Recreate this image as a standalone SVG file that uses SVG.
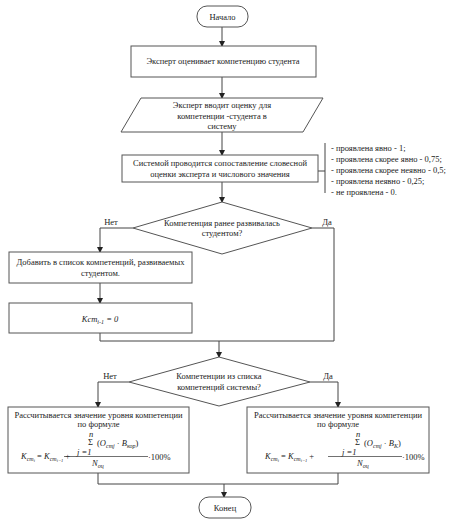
<svg xmlns="http://www.w3.org/2000/svg" width="452" height="524" viewBox="0 0 452 524">
<defs>
<marker id="ah" markerWidth="6" markerHeight="6" refX="5" refY="3" orient="auto" markerUnits="userSpaceOnUse">
<path d="M0,0 L6,3 L0,6 z" fill="#222"/>
</marker>
<style>
.s{fill:#fff;stroke:#555;stroke-width:1}
.t{font-family:"Liberation Serif","Times New Roman",serif;font-size:8.5px;fill:#222}
.c{text-anchor:middle}
.i{font-style:italic}
.l{fill:none;stroke:#444;stroke-width:1}
</style>
</defs>
<rect width="452" height="524" fill="#fff"/>
<g id="connectors">
<line class="l" x1="222" y1="27" x2="222" y2="46" marker-end="url(#ah)"/>
<line class="l" x1="222" y1="77" x2="222" y2="98" marker-end="url(#ah)"/>
<line class="l" x1="222" y1="132" x2="222" y2="155" marker-end="url(#ah)"/>
<line class="l" x1="222" y1="182" x2="222" y2="202" marker-end="url(#ah)"/>
<polyline class="l" points="133,228 100,228 100,252" marker-end="url(#ah)"/>
<polyline class="l" points="312,228 334,228 334,341"/>
<line class="l" x1="100" y1="283" x2="100" y2="303" marker-end="url(#ah)"/>
<polyline class="l" points="100,333 100,341 334,341"/>
<line class="l" x1="219" y1="341" x2="219" y2="357" marker-end="url(#ah)"/>
<polyline class="l" points="129,382 98,382 98,407" marker-end="url(#ah)"/>
<polyline class="l" points="310,382 338,382 338,407" marker-end="url(#ah)"/>
<polyline class="l" points="98,473 98,484 338,484 338,473"/>
<line class="l" x1="224" y1="484" x2="224" y2="497" marker-end="url(#ah)"/>
<polyline class="l" points="318,171 325,171"/>
<line class="l" x1="325" y1="143" x2="325" y2="193"/>
<text class="t c" x="111" y="225">Нет</text>
<text class="t c" x="327" y="225">Да</text>
<text class="t c" x="110" y="379">Нет</text>
<text class="t c" x="328" y="379">Да</text>
</g>
<g id="start">
<rect class="s" x="197" y="6" width="51" height="21" rx="10"/>
<text class="t c" x="222.5" y="19.5">Начало</text>
</g>
<g id="expert-evaluates">
<rect class="s" x="131" y="46" width="185" height="31"/>
<text class="t c" x="223" y="64">Эксперт оценивает компетенцию студента</text>
</g>
<g id="expert-inputs">
<polygon class="s" points="141,98 323,98 303,132 121,132"/>
<text class="t c" x="222" y="108">Эксперт вводит оценку для</text>
<text class="t c" x="222" y="118.5">компетенции -студента в</text>
<text class="t c" x="222" y="129">систему</text>
</g>
<g id="system-compare">
<rect class="s" x="122" y="155" width="196" height="27"/>
<text class="t c" x="220" y="166">Системой проводится сопоставление словесной</text>
<text class="t c" x="220" y="176.5">оценки эксперта и числового значения</text>
</g>
<g id="scale-note">
<text class="t" x="331" y="151">- проявлена явно - 1;</text>
<text class="t" x="331" y="162">- проявлена скорее явно - 0,75;</text>
<text class="t" x="331" y="173">- проявлена скорее неявно - 0,5;</text>
<text class="t" x="331" y="184">- проявлена неявно - 0,25;</text>
<text class="t" x="331" y="195">- не проявлена - 0.</text>
</g>
<g id="decision-developed">
<polygon class="s" points="222,202 312,228 222,254 133,228"/>
<text class="t c" x="222" y="226">Компетенция ранее развивалась</text>
<text class="t c" x="222" y="236">студентом?</text>
</g>
<g id="add-to-list">
<rect class="s" x="9" y="252" width="183" height="31"/>
<text class="t c" x="100.5" y="265">Добавить в список компетенций, развиваемых</text>
<text class="t c" x="100.5" y="275.5">студентом.</text>
</g>
<g id="kcm-zero">
<rect class="s" x="9" y="303" width="183" height="30"/>
<text class="t c i" x="100" y="321.5" font-size="9.5">Kcm<tspan font-size="6" dy="2">i-1</tspan><tspan dy="-2"> = 0</tspan></text>
</g>
<g id="decision-system">
<polygon class="s" points="219,357 310,382 219,406 129,382"/>
<text class="t c" x="219" y="379">Компетенции из списка</text>
<text class="t c" x="219" y="390">компетенций системы?</text>
</g>
<g id="calc-no">
<rect class="s" x="8" y="407" width="181" height="66"/>
<text class="t c" x="98.5" y="417.5">Рассчитывается значение уровня компетенции</text>
<text class="t c" x="98.5" y="427">по формуле</text>
<text class="t i" x="89" y="436.5" font-size="6">n</text>
<text class="t" x="88" y="445" font-size="7.5">Σ</text>
<text class="t" x="97" y="445.5" font-size="8">(<tspan class="i">O</tspan><tspan class="i" font-size="6" dy="2">cmj</tspan><tspan dy="-2"> ·</tspan><tspan class="i"> B</tspan><tspan class="i" font-size="6" dy="2">кор</tspan><tspan dy="-2">)</tspan></text>
<text class="t i" x="77" y="455" font-size="7">j =1</text>
<line x1="64" y1="456.5" x2="148" y2="456.5" stroke="#333" stroke-width="0.7"/>
<text class="t i" x="92" y="466" font-size="8">N<tspan font-size="6" dy="2">оц</tspan></text>
<text class="t" x="21" y="458.5" font-size="8"><tspan class="i">K</tspan><tspan class="i" font-size="6" dy="2">cm</tspan><tspan class="i" font-size="4.5" dy="1">i</tspan><tspan dy="-3"> = </tspan><tspan class="i">K</tspan><tspan class="i" font-size="6" dy="2">cm</tspan><tspan class="i" font-size="4.5" dy="1">i−1</tspan><tspan dy="-3"> +</tspan></text>
<text class="t" x="148" y="459.5" font-size="8">·100%</text>
</g>
<g id="calc-yes">
<rect class="s" x="247" y="407" width="182" height="66"/>
<text class="t c" x="338" y="417.5">Рассчитывается значение уровня компетенции</text>
<text class="t c" x="338" y="427">по формуле</text>
<text class="t i" x="356" y="436.5" font-size="6">n</text>
<text class="t" x="355" y="445" font-size="7.5">Σ</text>
<text class="t" x="364" y="445.5" font-size="8">(<tspan class="i">O</tspan><tspan class="i" font-size="6" dy="2">cmj</tspan><tspan dy="-2"> ·</tspan><tspan class="i"> B</tspan><tspan class="i" font-size="6" dy="2">K</tspan><tspan dy="-2">)</tspan></text>
<text class="t i" x="342" y="455" font-size="7">j =1</text>
<line x1="328" y1="456.5" x2="402" y2="456.5" stroke="#333" stroke-width="0.7"/>
<text class="t i" x="357" y="466" font-size="8">N<tspan font-size="6" dy="2">оц</tspan></text>
<text class="t" x="265" y="458.5" font-size="8"><tspan class="i">K</tspan><tspan class="i" font-size="6" dy="2">cm</tspan><tspan class="i" font-size="4.5" dy="1">i</tspan><tspan dy="-3"> = </tspan><tspan class="i">K</tspan><tspan class="i" font-size="6" dy="2">cm</tspan><tspan class="i" font-size="4.5" dy="1">i−1</tspan><tspan dy="-3"> +</tspan></text>
<text class="t" x="402" y="459.5" font-size="8">·100%</text>
</g>
<g id="end">
<rect class="s" x="199" y="497" width="52" height="21" rx="10"/>
<text class="t c" x="225" y="510.5">Конец</text>
</g>
</svg>
